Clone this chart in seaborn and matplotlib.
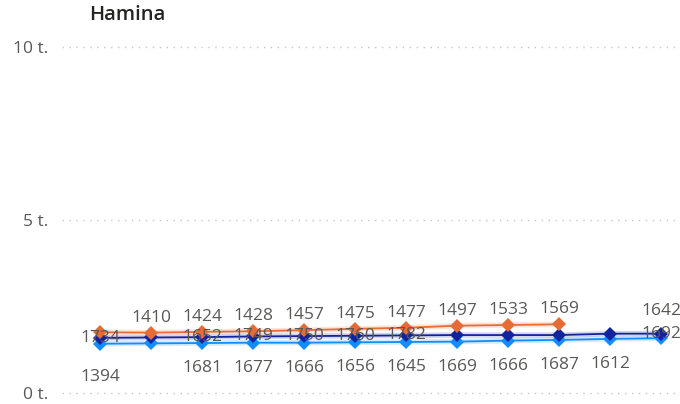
import matplotlib
matplotlib.use("Agg")
import matplotlib.pyplot as plt
import seaborn as sns
import pandas as pd
import numpy as np

# ---- data (values in thousands, "t.") ----
periods = list(range(12))
orange_vals = [1.76, 1.75, 1.77, 1.79, 1.82, 1.86, 1.89, 1.95, 1.97, 1.99]
darkblue_vals = [1.60, 1.61, 1.62, 1.64, 1.65, 1.66, 1.67, 1.68, 1.68, 1.68, 1.72, 1.72]
lightblue_vals = [1.43, 1.44, 1.45, 1.46, 1.46, 1.47, 1.48, 1.49, 1.52, 1.54, 1.57, 1.59]

orange_labels = [None, 1410, 1424, 1428, 1457, 1475, 1477, 1497, 1533, 1569]
darkblue_labels = [1734, None, 1652, 1749, 1750, 1760, 1782, None, None, None, None, 1692]
lightblue_labels = [1394, None, 1681, 1677, 1666, 1656, 1645, 1669, 1666, 1687, 1612, 1642]

yticks = [0, 5, 10]
ytick_labels = ["0 t.", "5 t.", "10 t."]
title = "Hamina"

# ---- style ----
sns.set_theme(style="white")
plt.rcParams["font.family"] = ["Open Sans", "DejaVu Sans"]

C_ORANGE = "#E66C37"
C_DARK = "#12239E"
C_LIGHT = "#118DFF"
TXT = "#5A5856"

W, H = 680, 404
fig = plt.figure(figsize=(W / 100, H / 100), dpi=100)
ax_left, ax_right, ax_top, ax_bot = 62, 680, 40, 398
ax = fig.add_axes([ax_left / W, (H - ax_bot) / H, (ax_right - ax_left) / W, (ax_bot - ax_top) / H])

series = [
    ("light", lightblue_vals, C_LIGHT, lightblue_labels, -25),
    ("dark", darkblue_vals, C_DARK, darkblue_labels, 0),
    ("orange", orange_vals, C_ORANGE, orange_labels, 15),
]
overrides = {("light", 0): -33, ("light", 11): 27}

for name, vals, col, labs, off in series:
    df = pd.DataFrame({"x": periods[:len(vals)], "y": vals})
    sns.lineplot(data=df, x="x", y="y", ax=ax, color=col, lw=4, alpha=0.18, legend=False)
    sns.lineplot(data=df, x="x", y="y", ax=ax, color=col, lw=1.3, marker="D",
                 markersize=7.5, markeredgewidth=0, legend=False)

for name, vals, col, labs, off in series:
    for i, lab in enumerate(labs):
        if lab is None:
            continue
        o = overrides.get((name, i), off)
        ax.annotate(str(lab), (periods[i], vals[i]), xytext=(0, o), textcoords="offset pixels",
                    ha="center", va="center", fontsize=12.5, color=TXT, zorder=10)

ax.set_xlim(-0.745, 11.373)
ax.set_ylim(-0.136, 10.193)
ax.set_yticks(yticks)
ax.set_yticklabels(ytick_labels)
ax.set_xticks([])
ax.set_xlabel("")
ax.set_ylabel("")
ax.tick_params(axis="y", length=0, pad=10, labelsize=12.5, labelcolor=TXT)
for t in yticks:
    ax.axhline(t, color="#C8C6C4", lw=1, linestyle=(0, (1, 4)), zorder=0)
for s in ax.spines.values():
    s.set_visible(False)
ax.grid(False)

fig.text(89 / W, 1 - 15 / H, title, ha="left", va="center", fontsize=14.5,
         fontweight="semibold", color="#252423")

fig.savefig("out.png", dpi=100)
